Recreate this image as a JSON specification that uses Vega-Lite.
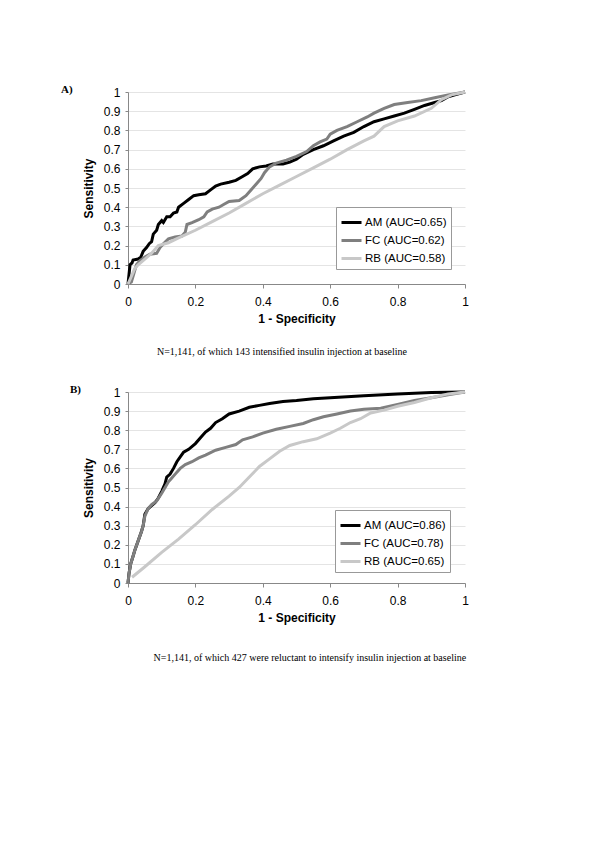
{
  "$schema": "https://vega.github.io/schema/vega-lite/v6.json",
  "background": "white",
  "autosize": {"type": "pad"},
  "padding": {"left": 61, "top": 84, "right": 5, "bottom": 5},
  "spacing": 26,
  "config": {
    "view": {"stroke": null},
    "axis": {
      "labelFont": "Liberation Sans", "labelFontSize": 12, "labelColor": "#000",
      "titleFont": "Liberation Sans", "titleFontSize": 12, "titleFontWeight": "bold", "titleColor": "#000",
      "domainColor": "#888", "tickColor": "#888", "gridColor": "#e4e4e4",
      "labelOverlap": false, "labelFlush": false
    },
    "axisX": {"grid": false, "tickSize": 4, "labelPadding": 8, "titlePadding": 6},
    "axisY": {"tickSize": 3, "labelPadding": 5, "titlePadding": 8},
    "legend": {
      "orient": "none", "strokeColor": "#999", "fillColor": "white", "padding": 4,
      "labelFont": "Liberation Sans", "labelFontSize": 11.5, "labelColor": "#000",
      "symbolType": "stroke", "symbolStrokeWidth": 3, "symbolSize": 400,
      "rowPadding": -4, "labelOffset": 2, "title": null
    },
    "title": {"font": "Liberation Serif", "fontSize": 11, "fontWeight": "bold", "color": "#000", "anchor": "start", "frame": "group", "baseline": "alphabetic"}
  },
  "resolve": {"scale": {"color": "independent"}, "legend": {"color": "independent"}},
  "datasets": {
    "A": [
      {"curve": "AM (AUC=0.65)", "fpr": 0, "tpr": 0},
      {"curve": "AM (AUC=0.65)", "fpr": 0.003, "tpr": 0.05},
      {"curve": "AM (AUC=0.65)", "fpr": 0.006, "tpr": 0.1},
      {"curve": "AM (AUC=0.65)", "fpr": 0.012, "tpr": 0.11},
      {"curve": "AM (AUC=0.65)", "fpr": 0.015, "tpr": 0.125},
      {"curve": "AM (AUC=0.65)", "fpr": 0.03, "tpr": 0.13},
      {"curve": "AM (AUC=0.65)", "fpr": 0.038, "tpr": 0.14},
      {"curve": "AM (AUC=0.65)", "fpr": 0.045, "tpr": 0.17},
      {"curve": "AM (AUC=0.65)", "fpr": 0.055, "tpr": 0.19},
      {"curve": "AM (AUC=0.65)", "fpr": 0.063, "tpr": 0.21},
      {"curve": "AM (AUC=0.65)", "fpr": 0.07, "tpr": 0.22},
      {"curve": "AM (AUC=0.65)", "fpr": 0.075, "tpr": 0.26},
      {"curve": "AM (AUC=0.65)", "fpr": 0.085, "tpr": 0.28},
      {"curve": "AM (AUC=0.65)", "fpr": 0.09, "tpr": 0.31},
      {"curve": "AM (AUC=0.65)", "fpr": 0.1, "tpr": 0.33},
      {"curve": "AM (AUC=0.65)", "fpr": 0.105, "tpr": 0.32},
      {"curve": "AM (AUC=0.65)", "fpr": 0.115, "tpr": 0.35},
      {"curve": "AM (AUC=0.65)", "fpr": 0.125, "tpr": 0.35},
      {"curve": "AM (AUC=0.65)", "fpr": 0.135, "tpr": 0.37},
      {"curve": "AM (AUC=0.65)", "fpr": 0.145, "tpr": 0.375},
      {"curve": "AM (AUC=0.65)", "fpr": 0.15, "tpr": 0.4},
      {"curve": "AM (AUC=0.65)", "fpr": 0.165, "tpr": 0.42},
      {"curve": "AM (AUC=0.65)", "fpr": 0.18, "tpr": 0.44},
      {"curve": "AM (AUC=0.65)", "fpr": 0.195, "tpr": 0.46},
      {"curve": "AM (AUC=0.65)", "fpr": 0.21, "tpr": 0.465},
      {"curve": "AM (AUC=0.65)", "fpr": 0.23, "tpr": 0.47},
      {"curve": "AM (AUC=0.65)", "fpr": 0.245, "tpr": 0.49},
      {"curve": "AM (AUC=0.65)", "fpr": 0.26, "tpr": 0.51},
      {"curve": "AM (AUC=0.65)", "fpr": 0.275, "tpr": 0.52},
      {"curve": "AM (AUC=0.65)", "fpr": 0.3, "tpr": 0.53},
      {"curve": "AM (AUC=0.65)", "fpr": 0.32, "tpr": 0.54},
      {"curve": "AM (AUC=0.65)", "fpr": 0.34, "tpr": 0.56},
      {"curve": "AM (AUC=0.65)", "fpr": 0.355, "tpr": 0.575},
      {"curve": "AM (AUC=0.65)", "fpr": 0.37, "tpr": 0.6},
      {"curve": "AM (AUC=0.65)", "fpr": 0.39, "tpr": 0.61},
      {"curve": "AM (AUC=0.65)", "fpr": 0.41, "tpr": 0.615},
      {"curve": "AM (AUC=0.65)", "fpr": 0.43, "tpr": 0.625},
      {"curve": "AM (AUC=0.65)", "fpr": 0.46, "tpr": 0.625},
      {"curve": "AM (AUC=0.65)", "fpr": 0.48, "tpr": 0.635},
      {"curve": "AM (AUC=0.65)", "fpr": 0.5, "tpr": 0.65},
      {"curve": "AM (AUC=0.65)", "fpr": 0.52, "tpr": 0.675},
      {"curve": "AM (AUC=0.65)", "fpr": 0.55, "tpr": 0.7},
      {"curve": "AM (AUC=0.65)", "fpr": 0.58, "tpr": 0.72},
      {"curve": "AM (AUC=0.65)", "fpr": 0.61, "tpr": 0.745},
      {"curve": "AM (AUC=0.65)", "fpr": 0.64, "tpr": 0.77},
      {"curve": "AM (AUC=0.65)", "fpr": 0.67, "tpr": 0.79},
      {"curve": "AM (AUC=0.65)", "fpr": 0.7, "tpr": 0.82},
      {"curve": "AM (AUC=0.65)", "fpr": 0.73, "tpr": 0.845},
      {"curve": "AM (AUC=0.65)", "fpr": 0.76, "tpr": 0.86},
      {"curve": "AM (AUC=0.65)", "fpr": 0.79, "tpr": 0.875},
      {"curve": "AM (AUC=0.65)", "fpr": 0.82, "tpr": 0.89},
      {"curve": "AM (AUC=0.65)", "fpr": 0.85, "tpr": 0.91},
      {"curve": "AM (AUC=0.65)", "fpr": 0.88, "tpr": 0.93},
      {"curve": "AM (AUC=0.65)", "fpr": 0.91, "tpr": 0.945},
      {"curve": "AM (AUC=0.65)", "fpr": 0.93, "tpr": 0.955},
      {"curve": "AM (AUC=0.65)", "fpr": 0.95, "tpr": 0.975},
      {"curve": "AM (AUC=0.65)", "fpr": 0.97, "tpr": 0.985},
      {"curve": "AM (AUC=0.65)", "fpr": 1, "tpr": 1},
      {"curve": "FC (AUC=0.62)", "fpr": 0, "tpr": 0},
      {"curve": "FC (AUC=0.62)", "fpr": 0.01, "tpr": 0.01},
      {"curve": "FC (AUC=0.62)", "fpr": 0.015, "tpr": 0.04},
      {"curve": "FC (AUC=0.62)", "fpr": 0.02, "tpr": 0.07},
      {"curve": "FC (AUC=0.62)", "fpr": 0.025, "tpr": 0.1},
      {"curve": "FC (AUC=0.62)", "fpr": 0.035, "tpr": 0.12},
      {"curve": "FC (AUC=0.62)", "fpr": 0.05, "tpr": 0.14},
      {"curve": "FC (AUC=0.62)", "fpr": 0.065, "tpr": 0.155},
      {"curve": "FC (AUC=0.62)", "fpr": 0.085, "tpr": 0.16},
      {"curve": "FC (AUC=0.62)", "fpr": 0.095, "tpr": 0.19},
      {"curve": "FC (AUC=0.62)", "fpr": 0.105, "tpr": 0.21},
      {"curve": "FC (AUC=0.62)", "fpr": 0.12, "tpr": 0.235},
      {"curve": "FC (AUC=0.62)", "fpr": 0.14, "tpr": 0.245},
      {"curve": "FC (AUC=0.62)", "fpr": 0.16, "tpr": 0.25},
      {"curve": "FC (AUC=0.62)", "fpr": 0.17, "tpr": 0.27},
      {"curve": "FC (AUC=0.62)", "fpr": 0.175, "tpr": 0.31},
      {"curve": "FC (AUC=0.62)", "fpr": 0.19, "tpr": 0.32},
      {"curve": "FC (AUC=0.62)", "fpr": 0.21, "tpr": 0.335},
      {"curve": "FC (AUC=0.62)", "fpr": 0.225, "tpr": 0.35},
      {"curve": "FC (AUC=0.62)", "fpr": 0.235, "tpr": 0.375},
      {"curve": "FC (AUC=0.62)", "fpr": 0.25, "tpr": 0.39},
      {"curve": "FC (AUC=0.62)", "fpr": 0.27, "tpr": 0.4},
      {"curve": "FC (AUC=0.62)", "fpr": 0.285, "tpr": 0.415},
      {"curve": "FC (AUC=0.62)", "fpr": 0.3, "tpr": 0.43},
      {"curve": "FC (AUC=0.62)", "fpr": 0.33, "tpr": 0.435},
      {"curve": "FC (AUC=0.62)", "fpr": 0.35, "tpr": 0.46},
      {"curve": "FC (AUC=0.62)", "fpr": 0.365, "tpr": 0.49},
      {"curve": "FC (AUC=0.62)", "fpr": 0.38, "tpr": 0.52},
      {"curve": "FC (AUC=0.62)", "fpr": 0.395, "tpr": 0.55},
      {"curve": "FC (AUC=0.62)", "fpr": 0.405, "tpr": 0.58},
      {"curve": "FC (AUC=0.62)", "fpr": 0.42, "tpr": 0.61},
      {"curve": "FC (AUC=0.62)", "fpr": 0.44, "tpr": 0.63},
      {"curve": "FC (AUC=0.62)", "fpr": 0.47, "tpr": 0.645},
      {"curve": "FC (AUC=0.62)", "fpr": 0.5, "tpr": 0.665},
      {"curve": "FC (AUC=0.62)", "fpr": 0.53, "tpr": 0.69},
      {"curve": "FC (AUC=0.62)", "fpr": 0.55, "tpr": 0.72},
      {"curve": "FC (AUC=0.62)", "fpr": 0.57, "tpr": 0.74},
      {"curve": "FC (AUC=0.62)", "fpr": 0.59, "tpr": 0.755},
      {"curve": "FC (AUC=0.62)", "fpr": 0.6, "tpr": 0.78},
      {"curve": "FC (AUC=0.62)", "fpr": 0.62, "tpr": 0.8},
      {"curve": "FC (AUC=0.62)", "fpr": 0.65, "tpr": 0.82},
      {"curve": "FC (AUC=0.62)", "fpr": 0.68, "tpr": 0.845},
      {"curve": "FC (AUC=0.62)", "fpr": 0.71, "tpr": 0.87},
      {"curve": "FC (AUC=0.62)", "fpr": 0.73, "tpr": 0.89},
      {"curve": "FC (AUC=0.62)", "fpr": 0.76, "tpr": 0.915},
      {"curve": "FC (AUC=0.62)", "fpr": 0.79, "tpr": 0.935},
      {"curve": "FC (AUC=0.62)", "fpr": 0.83, "tpr": 0.945},
      {"curve": "FC (AUC=0.62)", "fpr": 0.87, "tpr": 0.955},
      {"curve": "FC (AUC=0.62)", "fpr": 0.91, "tpr": 0.97},
      {"curve": "FC (AUC=0.62)", "fpr": 0.95, "tpr": 0.985},
      {"curve": "FC (AUC=0.62)", "fpr": 1, "tpr": 1},
      {"curve": "RB (AUC=0.58)", "fpr": 0, "tpr": 0},
      {"curve": "RB (AUC=0.58)", "fpr": 0.01, "tpr": 0.04},
      {"curve": "RB (AUC=0.58)", "fpr": 0.02, "tpr": 0.08},
      {"curve": "RB (AUC=0.58)", "fpr": 0.03, "tpr": 0.1},
      {"curve": "RB (AUC=0.58)", "fpr": 0.05, "tpr": 0.13},
      {"curve": "RB (AUC=0.58)", "fpr": 0.07, "tpr": 0.16},
      {"curve": "RB (AUC=0.58)", "fpr": 0.09, "tpr": 0.2},
      {"curve": "RB (AUC=0.58)", "fpr": 0.12, "tpr": 0.215},
      {"curve": "RB (AUC=0.58)", "fpr": 0.15, "tpr": 0.24},
      {"curve": "RB (AUC=0.58)", "fpr": 0.2, "tpr": 0.28},
      {"curve": "RB (AUC=0.58)", "fpr": 0.25, "tpr": 0.325},
      {"curve": "RB (AUC=0.58)", "fpr": 0.3, "tpr": 0.37},
      {"curve": "RB (AUC=0.58)", "fpr": 0.35, "tpr": 0.42},
      {"curve": "RB (AUC=0.58)", "fpr": 0.4, "tpr": 0.47},
      {"curve": "RB (AUC=0.58)", "fpr": 0.45, "tpr": 0.515},
      {"curve": "RB (AUC=0.58)", "fpr": 0.5, "tpr": 0.56},
      {"curve": "RB (AUC=0.58)", "fpr": 0.55, "tpr": 0.605},
      {"curve": "RB (AUC=0.58)", "fpr": 0.6, "tpr": 0.65},
      {"curve": "RB (AUC=0.58)", "fpr": 0.65, "tpr": 0.7},
      {"curve": "RB (AUC=0.58)", "fpr": 0.7, "tpr": 0.745},
      {"curve": "RB (AUC=0.58)", "fpr": 0.73, "tpr": 0.77},
      {"curve": "RB (AUC=0.58)", "fpr": 0.76, "tpr": 0.82},
      {"curve": "RB (AUC=0.58)", "fpr": 0.8, "tpr": 0.85},
      {"curve": "RB (AUC=0.58)", "fpr": 0.85, "tpr": 0.875},
      {"curve": "RB (AUC=0.58)", "fpr": 0.9, "tpr": 0.915},
      {"curve": "RB (AUC=0.58)", "fpr": 0.93, "tpr": 0.96},
      {"curve": "RB (AUC=0.58)", "fpr": 0.96, "tpr": 0.985},
      {"curve": "RB (AUC=0.58)", "fpr": 1, "tpr": 1}
    ],
    "B": [
      {"curve": "AM (AUC=0.86)", "fpr": 0, "tpr": 0},
      {"curve": "AM (AUC=0.86)", "fpr": 0.003, "tpr": 0.05},
      {"curve": "AM (AUC=0.86)", "fpr": 0.008, "tpr": 0.1},
      {"curve": "AM (AUC=0.86)", "fpr": 0.015, "tpr": 0.14},
      {"curve": "AM (AUC=0.86)", "fpr": 0.02, "tpr": 0.17},
      {"curve": "AM (AUC=0.86)", "fpr": 0.03, "tpr": 0.22},
      {"curve": "AM (AUC=0.86)", "fpr": 0.04, "tpr": 0.27},
      {"curve": "AM (AUC=0.86)", "fpr": 0.045, "tpr": 0.3},
      {"curve": "AM (AUC=0.86)", "fpr": 0.05, "tpr": 0.36},
      {"curve": "AM (AUC=0.86)", "fpr": 0.06, "tpr": 0.39},
      {"curve": "AM (AUC=0.86)", "fpr": 0.07, "tpr": 0.405},
      {"curve": "AM (AUC=0.86)", "fpr": 0.08, "tpr": 0.42},
      {"curve": "AM (AUC=0.86)", "fpr": 0.09, "tpr": 0.445},
      {"curve": "AM (AUC=0.86)", "fpr": 0.1, "tpr": 0.48},
      {"curve": "AM (AUC=0.86)", "fpr": 0.11, "tpr": 0.52},
      {"curve": "AM (AUC=0.86)", "fpr": 0.115, "tpr": 0.555},
      {"curve": "AM (AUC=0.86)", "fpr": 0.125, "tpr": 0.57},
      {"curve": "AM (AUC=0.86)", "fpr": 0.135, "tpr": 0.6},
      {"curve": "AM (AUC=0.86)", "fpr": 0.145, "tpr": 0.635},
      {"curve": "AM (AUC=0.86)", "fpr": 0.155, "tpr": 0.66},
      {"curve": "AM (AUC=0.86)", "fpr": 0.165, "tpr": 0.685},
      {"curve": "AM (AUC=0.86)", "fpr": 0.18, "tpr": 0.7},
      {"curve": "AM (AUC=0.86)", "fpr": 0.2, "tpr": 0.73},
      {"curve": "AM (AUC=0.86)", "fpr": 0.215, "tpr": 0.76},
      {"curve": "AM (AUC=0.86)", "fpr": 0.23, "tpr": 0.79},
      {"curve": "AM (AUC=0.86)", "fpr": 0.245, "tpr": 0.81},
      {"curve": "AM (AUC=0.86)", "fpr": 0.26, "tpr": 0.84},
      {"curve": "AM (AUC=0.86)", "fpr": 0.28, "tpr": 0.86},
      {"curve": "AM (AUC=0.86)", "fpr": 0.3, "tpr": 0.885},
      {"curve": "AM (AUC=0.86)", "fpr": 0.33, "tpr": 0.9},
      {"curve": "AM (AUC=0.86)", "fpr": 0.36, "tpr": 0.92},
      {"curve": "AM (AUC=0.86)", "fpr": 0.39, "tpr": 0.93},
      {"curve": "AM (AUC=0.86)", "fpr": 0.42, "tpr": 0.94},
      {"curve": "AM (AUC=0.86)", "fpr": 0.46, "tpr": 0.95},
      {"curve": "AM (AUC=0.86)", "fpr": 0.5, "tpr": 0.955},
      {"curve": "AM (AUC=0.86)", "fpr": 0.55, "tpr": 0.965},
      {"curve": "AM (AUC=0.86)", "fpr": 0.6, "tpr": 0.97},
      {"curve": "AM (AUC=0.86)", "fpr": 0.7, "tpr": 0.98},
      {"curve": "AM (AUC=0.86)", "fpr": 0.8, "tpr": 0.99},
      {"curve": "AM (AUC=0.86)", "fpr": 0.9, "tpr": 0.998},
      {"curve": "AM (AUC=0.86)", "fpr": 1, "tpr": 1},
      {"curve": "FC (AUC=0.78)", "fpr": 0, "tpr": 0},
      {"curve": "FC (AUC=0.78)", "fpr": 0.003, "tpr": 0.05},
      {"curve": "FC (AUC=0.78)", "fpr": 0.008, "tpr": 0.1},
      {"curve": "FC (AUC=0.78)", "fpr": 0.015, "tpr": 0.14},
      {"curve": "FC (AUC=0.78)", "fpr": 0.02, "tpr": 0.17},
      {"curve": "FC (AUC=0.78)", "fpr": 0.03, "tpr": 0.22},
      {"curve": "FC (AUC=0.78)", "fpr": 0.04, "tpr": 0.27},
      {"curve": "FC (AUC=0.78)", "fpr": 0.045, "tpr": 0.3},
      {"curve": "FC (AUC=0.78)", "fpr": 0.05, "tpr": 0.35},
      {"curve": "FC (AUC=0.78)", "fpr": 0.06, "tpr": 0.39},
      {"curve": "FC (AUC=0.78)", "fpr": 0.07, "tpr": 0.41},
      {"curve": "FC (AUC=0.78)", "fpr": 0.085, "tpr": 0.43},
      {"curve": "FC (AUC=0.78)", "fpr": 0.1, "tpr": 0.47},
      {"curve": "FC (AUC=0.78)", "fpr": 0.11, "tpr": 0.5},
      {"curve": "FC (AUC=0.78)", "fpr": 0.12, "tpr": 0.53},
      {"curve": "FC (AUC=0.78)", "fpr": 0.13, "tpr": 0.55},
      {"curve": "FC (AUC=0.78)", "fpr": 0.14, "tpr": 0.57},
      {"curve": "FC (AUC=0.78)", "fpr": 0.155, "tpr": 0.6},
      {"curve": "FC (AUC=0.78)", "fpr": 0.17, "tpr": 0.62},
      {"curve": "FC (AUC=0.78)", "fpr": 0.19, "tpr": 0.635},
      {"curve": "FC (AUC=0.78)", "fpr": 0.21, "tpr": 0.655},
      {"curve": "FC (AUC=0.78)", "fpr": 0.23, "tpr": 0.67},
      {"curve": "FC (AUC=0.78)", "fpr": 0.26, "tpr": 0.695},
      {"curve": "FC (AUC=0.78)", "fpr": 0.29, "tpr": 0.71},
      {"curve": "FC (AUC=0.78)", "fpr": 0.32, "tpr": 0.725},
      {"curve": "FC (AUC=0.78)", "fpr": 0.34, "tpr": 0.75},
      {"curve": "FC (AUC=0.78)", "fpr": 0.37, "tpr": 0.765},
      {"curve": "FC (AUC=0.78)", "fpr": 0.4, "tpr": 0.785},
      {"curve": "FC (AUC=0.78)", "fpr": 0.44, "tpr": 0.805},
      {"curve": "FC (AUC=0.78)", "fpr": 0.48, "tpr": 0.82},
      {"curve": "FC (AUC=0.78)", "fpr": 0.52, "tpr": 0.835},
      {"curve": "FC (AUC=0.78)", "fpr": 0.55, "tpr": 0.855},
      {"curve": "FC (AUC=0.78)", "fpr": 0.58, "tpr": 0.87},
      {"curve": "FC (AUC=0.78)", "fpr": 0.62, "tpr": 0.885},
      {"curve": "FC (AUC=0.78)", "fpr": 0.66, "tpr": 0.9},
      {"curve": "FC (AUC=0.78)", "fpr": 0.7, "tpr": 0.91},
      {"curve": "FC (AUC=0.78)", "fpr": 0.75, "tpr": 0.915},
      {"curve": "FC (AUC=0.78)", "fpr": 0.8, "tpr": 0.935},
      {"curve": "FC (AUC=0.78)", "fpr": 0.85, "tpr": 0.955},
      {"curve": "FC (AUC=0.78)", "fpr": 0.9, "tpr": 0.97},
      {"curve": "FC (AUC=0.78)", "fpr": 0.95, "tpr": 0.985},
      {"curve": "FC (AUC=0.78)", "fpr": 1, "tpr": 1},
      {"curve": "RB (AUC=0.65)", "fpr": 0.012, "tpr": 0.03},
      {"curve": "RB (AUC=0.65)", "fpr": 0.05, "tpr": 0.085},
      {"curve": "RB (AUC=0.65)", "fpr": 0.1, "tpr": 0.16},
      {"curve": "RB (AUC=0.65)", "fpr": 0.15, "tpr": 0.23},
      {"curve": "RB (AUC=0.65)", "fpr": 0.2, "tpr": 0.305},
      {"curve": "RB (AUC=0.65)", "fpr": 0.25, "tpr": 0.385},
      {"curve": "RB (AUC=0.65)", "fpr": 0.3, "tpr": 0.455},
      {"curve": "RB (AUC=0.65)", "fpr": 0.33, "tpr": 0.5},
      {"curve": "RB (AUC=0.65)", "fpr": 0.36, "tpr": 0.555},
      {"curve": "RB (AUC=0.65)", "fpr": 0.39, "tpr": 0.61},
      {"curve": "RB (AUC=0.65)", "fpr": 0.42, "tpr": 0.65},
      {"curve": "RB (AUC=0.65)", "fpr": 0.45, "tpr": 0.69},
      {"curve": "RB (AUC=0.65)", "fpr": 0.48, "tpr": 0.72},
      {"curve": "RB (AUC=0.65)", "fpr": 0.52, "tpr": 0.74},
      {"curve": "RB (AUC=0.65)", "fpr": 0.56, "tpr": 0.755},
      {"curve": "RB (AUC=0.65)", "fpr": 0.6, "tpr": 0.785},
      {"curve": "RB (AUC=0.65)", "fpr": 0.63, "tpr": 0.81},
      {"curve": "RB (AUC=0.65)", "fpr": 0.66, "tpr": 0.84},
      {"curve": "RB (AUC=0.65)", "fpr": 0.69, "tpr": 0.86},
      {"curve": "RB (AUC=0.65)", "fpr": 0.72, "tpr": 0.89},
      {"curve": "RB (AUC=0.65)", "fpr": 0.76, "tpr": 0.905},
      {"curve": "RB (AUC=0.65)", "fpr": 0.8, "tpr": 0.925},
      {"curve": "RB (AUC=0.65)", "fpr": 0.85, "tpr": 0.945},
      {"curve": "RB (AUC=0.65)", "fpr": 0.9, "tpr": 0.97},
      {"curve": "RB (AUC=0.65)", "fpr": 0.95, "tpr": 0.99},
      {"curve": "RB (AUC=0.65)", "fpr": 1, "tpr": 1}
    ]
  },
  "vconcat": [
    {
      "width": 337, "height": 192,
      "title": {"text": "A)", "dx": -67, "offset": -9},
      "encoding": {
        "x": {"type": "quantitative", "scale": {"domain": [0, 1], "nice": false},
              "axis": {"title": "1 - Specificity", "values": [0, 0.2, 0.4, 0.6, 0.8, 1], "format": "~g"}},
        "y": {"type": "quantitative", "scale": {"domain": [0, 1], "nice": false},
              "axis": {"title": "Sensitivity", "values": [0, 0.1, 0.2, 0.3, 0.4, 0.5, 0.6, 0.7, 0.8, 0.9, 1], "format": "~g"}}
      },
      "layer": [
        {
          "data": {"name": "A"},
          "mark": {"type": "line", "strokeWidth": 3, "clip": false},
          "encoding": {
            "x": {"field": "fpr"},
            "y": {"field": "tpr"},
            "color": {"field": "curve", "type": "nominal",
                      "scale": {"domain": ["AM (AUC=0.65)", "FC (AUC=0.62)", "RB (AUC=0.58)"], "range": ["#000000", "#7f7f7f", "#c8c8c8"]},
                      "legend": {"legendX": 208, "legendY": 115}},
            "order": {"value": null}
          }
        },
        {
          "data": {"values": [{"caption": "N=1,141, of which 143 intensified insulin injection at baseline"}]},
          "mark": {"type": "text", "font": "Liberation Serif", "fontSize": 10, "align": "left", "baseline": "alphabetic", "color": "#000"},
          "encoding": {
            "text": {"field": "caption"},
            "x": {"datum": 0.086},
            "y": {"datum": -0.37}
          }
        }
      ]
    },
    {
      "width": 337, "height": 191,
      "title": {"text": "B)", "dx": -58, "offset": -9},
      "encoding": {
        "x": {"type": "quantitative", "scale": {"domain": [0, 1], "nice": false},
              "axis": {"title": "1 - Specificity", "values": [0, 0.2, 0.4, 0.6, 0.8, 1], "format": "~g"}},
        "y": {"type": "quantitative", "scale": {"domain": [0, 1], "nice": false},
              "axis": {"title": "Sensitivity", "values": [0, 0.1, 0.2, 0.3, 0.4, 0.5, 0.6, 0.7, 0.8, 0.9, 1], "format": "~g"}}
      },
      "layer": [
        {
          "data": {"name": "B"},
          "mark": {"type": "line", "strokeWidth": 3, "clip": false},
          "encoding": {
            "x": {"field": "fpr"},
            "y": {"field": "tpr"},
            "color": {"field": "curve", "type": "nominal",
                      "scale": {"domain": ["AM (AUC=0.86)", "FC (AUC=0.78)", "RB (AUC=0.65)"], "range": ["#000000", "#7f7f7f", "#c8c8c8"]},
                      "legend": {"legendX": 207, "legendY": 118}},
            "order": {"value": null}
          }
        },
        {
          "data": {"values": [{"caption": "N=1,141, of which 427 were reluctant to intensify insulin injection at baseline"}]},
          "mark": {"type": "text", "font": "Liberation Serif", "fontSize": 10, "align": "left", "baseline": "alphabetic", "color": "#000"},
          "encoding": {
            "text": {"field": "caption"},
            "x": {"datum": 0.076},
            "y": {"datum": -0.406}
          }
        }
      ]
    }
  ]
}
